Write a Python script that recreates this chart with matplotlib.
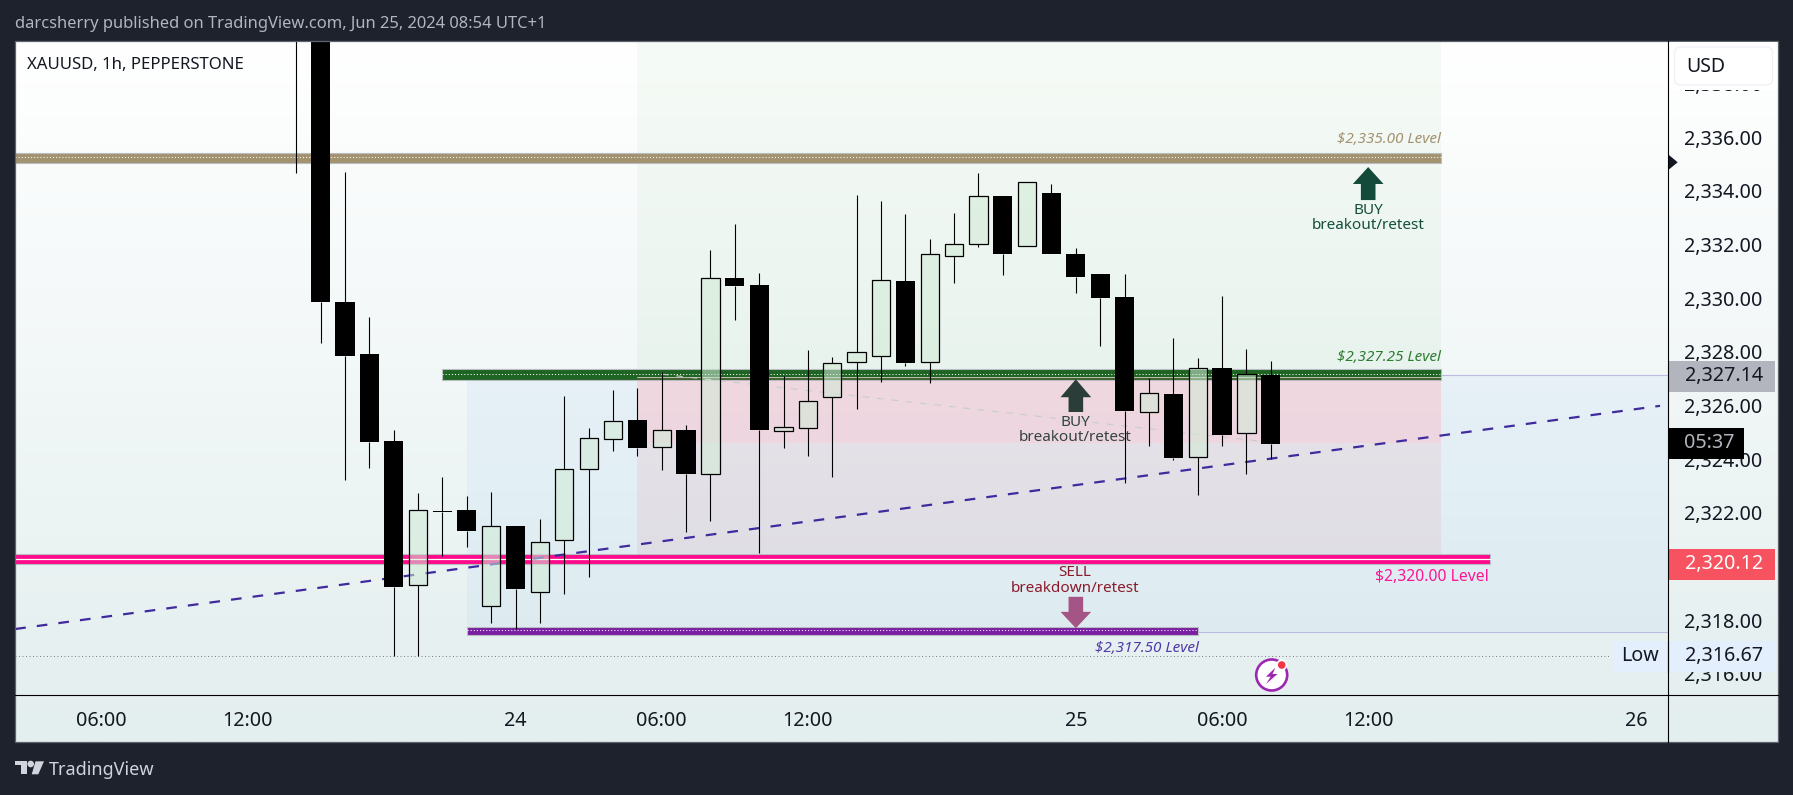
"""XAUUSD 1h TradingView snapshot with level bands, rebuilt in matplotlib."""
import matplotlib
matplotlib.use("Agg")
import matplotlib.pyplot as plt
import numpy as np
from matplotlib.colors import LinearSegmentedColormap
from matplotlib.patches import Circle, FancyBboxPatch, Polygon, Rectangle

W, H = 1793, 795
FONT = "Noto Sans"

# bar index, 0 is the 00:00 candle of the 24th
bars = list(range(-9, 32))
opens = [2342.5, 2341.0, 2329.86, 2327.92, 2324.68, 2319.30, 2322.07, 2322.11, 2318.52, 2321.51,
         2319.06, 2320.98, 2323.63, 2324.74, 2325.46, 2324.45, 2325.09, 2323.44, 2330.76, 2330.50,
         2325.04, 2325.15, 2326.31, 2327.61, 2327.86, 2330.64, 2327.61, 2331.59, 2332.03, 2333.81,
         2331.94, 2333.92, 2331.65, 2330.91, 2330.05, 2325.75, 2326.43, 2324.07, 2327.40, 2324.97,
         2327.14]
highs = [2343.0, 2342.0, 2334.71, 2329.30, 2325.09, 2322.73, 2323.34, 2322.63, 2322.78, 2321.51,
         2321.77, 2326.36, 2325.17, 2326.58, 2326.66, 2327.25, 2325.28, 2331.80, 2332.77, 2330.94,
         2327.10, 2328.07, 2327.81, 2333.85, 2333.63, 2333.14, 2332.21, 2333.18, 2334.67, 2333.81,
         2334.32, 2334.26, 2331.87, 2330.91, 2330.91, 2327.04, 2328.52, 2327.76, 2330.09, 2328.11,
         2327.66]
lows = [2334.67, 2328.35, 2323.24, 2323.69, 2316.68, 2316.68, 2320.41, 2320.74, 2317.91, 2317.67,
        2317.91, 2318.99, 2319.62, 2324.32, 2324.13, 2323.61, 2321.30, 2321.71, 2329.19, 2320.52,
        2324.43, 2324.13, 2323.33, 2325.89, 2326.89, 2327.49, 2326.85, 2330.57, 2331.91, 2330.87,
        2331.94, 2331.66, 2330.20, 2328.23, 2323.13, 2324.51, 2323.97, 2322.68, 2324.51, 2323.43,
        2324.02]
closes = [2341.0, 2329.87, 2327.86, 2324.66, 2319.25, 2322.10, 2322.02, 2321.34, 2321.50, 2319.18,
          2320.91, 2323.63, 2324.78, 2325.42, 2324.43, 2325.08, 2323.43, 2330.74, 2330.46, 2325.10,
          2325.19, 2326.16, 2327.58, 2327.99, 2330.67, 2327.60, 2331.64, 2332.01, 2333.80, 2331.66,
          2334.32, 2331.66, 2330.79, 2330.02, 2325.81, 2326.46, 2324.06, 2327.39, 2324.92, 2327.17,
          2324.58]

price_ticks = [2338, 2336, 2334, 2332, 2330, 2328, 2326, 2324, 2322, 2320, 2318, 2316]
time_ticks = [-17, -11, 0, 6, 12, 23, 29, 35, 46]
time_labels = ["06:00", "12:00", "24", "06:00", "12:00", "25", "06:00", "12:00", "26"]

trend_x = [-20.54, 46.98]
trend_y = [2317.67, 2325.99]
faint_x = [6, 30.8]
faint_y = [2327.17, 2324.65]

fig = plt.figure(figsize=(W / 100, H / 100), dpi=100, facecolor="#1e222d")
plt.rcParams["font.family"] = FONT


def fig_axes(left, top, right, bottom, **kw):
    return fig.add_axes([left / W, 1 - bottom / H, (right - left) / W, (bottom - top) / H], **kw)


# chart background gradient
bg = fig_axes(15.2, 41, 1777.7, 742, zorder=0)
cmap = LinearSegmentedColormap.from_list("tvbg", ["#ffffff", "#e3eeee"])
bg.imshow(np.linspace(0, 1, 256).reshape(-1, 1), aspect="auto", cmap=cmap)
bg.axis("off")

ax = fig_axes(15.2, 41, 1668.3, 695, zorder=1)
ax.patch.set_alpha(0)
ax.set_xlim(-20.54, 47.32)
ax.set_ylim(2315.21, 2339.59)
for s in ax.spines.values():
    s.set_visible(False)

# shaded zones
ax.add_patch(Rectangle((-2, 2317.57), 49.32, 9.57, fc=(0.20, 0.60, 1.0, 0.055), ec="none", zorder=1))
ax.add_patch(Rectangle((5, 2327.25), 33, 12.34, fc=(0.30, 0.69, 0.31, 0.05), ec="none", zorder=1))
ax.add_patch(Rectangle((5, 2320.2), 33, 7.05, fc=(0.90, 0.39, 0.43, 0.10), ec="none", zorder=1))
ax.add_patch(Rectangle((5, 2324.62), 33, 2.63, fc=(1.0, 0.78, 0.82, 0.36), ec="none", zorder=1))

# thin zone borders past the bands
ax.plot([38, 47.32], [2327.15, 2327.15], color="#bcbce2", lw=0.8, zorder=1.5)
ax.plot([28, 47.32], [2317.57, 2317.57], color="#bcbce2", lw=0.8, zorder=1.5)

# low of the visible range
ax.plot([-20.54, 44.9], [2316.67, 2316.67], color="#787b86", lw=0.7, ls=(0, (1, 2.6)), zorder=1.6)

# level bands
band_edge = "#b9bcc0"
ax.add_patch(Rectangle((-20.54, 2335.03), 58.54, 0.38, fc="#a39270", ec=band_edge, lw=0.8, zorder=2))
ax.plot([-20.54, 38], [2335.25, 2335.25], color="white", lw=0.75, ls=(0, (1, 2)), zorder=2.1)
ax.add_patch(Rectangle((-3, 2326.95), 41, 0.4, fc="#1e6423", ec=band_edge, lw=0.8, zorder=2))
ax.add_patch(Rectangle((5, 2326.95), 33, 0.13, fc="#44622f", ec="none", zorder=2.05))
ax.plot([5, 38], [2327.08, 2327.08], color="#c9d2c4", lw=0.6, zorder=2.1)
ax.plot([-3, 38], [2327.17, 2327.17], color="white", lw=0.75, ls=(0, (1, 2)), zorder=2.1)
ax.add_patch(Rectangle((-20.54, 2320.09), 60.54, 0.36, fc="#ff0a8c", ec=band_edge, lw=0.8, zorder=2))
ax.plot([-20.54, 40], [2320.27, 2320.27], color="white", lw=0.9, zorder=2.1)
ax.add_patch(Rectangle((-2, 2317.44), 30, 0.32, fc="#7b1fa2", ec=band_edge, lw=0.8, zorder=2))
ax.plot([-2, 28], [2317.62, 2317.62], color="white", lw=0.75, ls=(0, (1, 2)), zorder=2.1)

# trend lines go under the candles
ax.plot(trend_x, trend_y, color="#3f2a9e", lw=1.6, ls=(0, (4.8, 5)), zorder=2.5)
ax.plot(faint_x, faint_y, color="#c6cdd0", lw=0.8, ls=(0, (6, 7)), zorder=2.5)

# candles
x = np.array(bars)
o, h, l, c = map(np.array, (opens, highs, lows, closes))
top = np.maximum(o, c)
bot = np.minimum(o, c)
up = c >= o
ax.vlines(x, top, h, color="black", lw=0.8, zorder=3)
ax.vlines(x, l, bot, color="black", lw=0.8, zorder=3)
ax.bar(x[~up], (top - bot)[~up], bottom=bot[~up], width=0.79, color="black", lw=0, zorder=4)
ax.bar(x[up], (top - bot)[up], bottom=bot[up], width=0.75, color=(0.82, 0.92, 0.84, 0.55),
       edgecolor="black", lw=0.9, zorder=4)


def arrow(xc, y_tip, y_head, y_end, color):
    hw, sw = 0.63, 0.3
    ax.add_patch(Polygon([(xc, y_tip), (xc + hw, y_head), (xc + sw, y_head), (xc + sw, y_end),
                          (xc - sw, y_end), (xc - sw, y_head), (xc - hw, y_head)],
                         closed=True, fc=color, ec="none", zorder=5))


arrow(35, 2334.89, 2334.26, 2333.66, "#134a3a")
arrow(23, 2326.98, 2326.31, 2325.76, "#2a3d38")
arrow(23, 2317.70, 2318.31, 2318.87, "#a55585")

# level and signal labels
lvl = dict(ha="right", va="center", fontsize=11, zorder=6)
ax.text(37.98, 2335.92, "$2,335.00 Level", color="#a39270", style="italic", **lvl)
ax.text(37.98, 2327.81, "$2,327.25 Level", color="#2e7d32", style="italic", **lvl)
ax.text(28.04, 2316.96, "$2,317.50 Level", color="#5039a8", style="italic", **lvl)
ax.text(39.96, 2319.61, "$2,320.00 Level", color="#ff1493", ha="right", va="center", fontsize=11.3,
        fontweight="medium", zorder=6)

sig = dict(ha="center", va="center", fontsize=11, fontweight="medium", zorder=6)
ax.text(35, 2333.26, "BUY", color="#134e3c", **sig)
ax.text(35, 2332.70, "breakout/retest", color="#134e3c", **sig)
ax.text(22.96, 2325.38, "BUY", color="#33443f", **sig)
ax.text(22.96, 2324.82, "breakout/retest", color="#33443f", **sig)
ax.text(22.96, 2319.76, "SELL", color="#8b1a2b", **sig)
ax.text(22.96, 2319.19, "breakdown/retest", color="#8b1a2b", **sig)

# axis labels
ax.yaxis.tick_right()
ax.set_yticks(price_ticks)
ax.set_yticklabels([f"{p:,.2f}" for p in price_ticks], fontsize=14.2, color="#131722")
ax.tick_params(axis="y", length=0, pad=11)
ax.set_xticks(time_ticks)
ax.set_xticklabels(time_labels, fontsize=14.2, color="#131722")
ax.tick_params(axis="x", length=0, pad=11.7)
for lab, txt in zip(ax.get_xticklabels(), time_labels):
    if txt == "24":
        lab.set_fontweight("bold")

# overlay in picture pixels: axis furniture, price flags, header and footer
px = fig.add_axes([0, 0, 1, 1], zorder=5)
px.set_xlim(0, W)
px.set_ylim(H, 0)
px.axis("off")

px.add_patch(Rectangle((15.2, 41), 1762.5, 701, fc="none", ec="#5f636d", lw=0.9))
px.plot([1668.3, 1668.3], [41, 742], color="black", lw=0.8)
px.plot([15.2, 1777.7], [695.2, 695.2], color="black", lw=0.8)
px.add_patch(Polygon([(1668.3, 154.5), (1677.7, 162.3), (1668.3, 170)], fc="#131722", ec="none"))

# USD button hides the top tick
px.add_patch(Rectangle((1669, 42), 108, 47.5, fc="white", ec="none"))
px.add_patch(FancyBboxPatch((1677, 49.5), 93, 33, boxstyle="round,pad=2.5,rounding_size=6",
                            fc="white", ec="#eef0f6", lw=0.9))
px.text(1706, 66.5, "USD", ha="center", va="center", fontsize=14, color="#131722")


def flag(x0, x1, y0, y1, fc, txt, tc, xt=1724):
    px.add_patch(Rectangle((x0, y0), x1 - x0, y1 - y0, fc=fc, ec="none"))
    px.text(xt, (y0 + y1) / 2 - 0.5, txt, ha="center", va="center", fontsize=14.2, color=tc)


flag(1668.3, 1774.7, 361, 391.7, "#b2b5be", "2,327.14", "#131722")
flag(1668.3, 1744.3, 428, 458.7, "black", "05:37", "#b2b5be", xt=1709)
flag(1668.3, 1774.7, 549, 579.7, "#f7525f", "2,320.12", "white")
flag(1668.3, 1776, 641, 671.7, "#e3effd", "2,316.67", "#131722")
flag(1613, 1667, 641, 671.7, "#e3effd", "Low", "#131722", xt=1640)
px.plot([1667.5, 1667.5], [641, 671.7], color="black", lw=0.8)

# header and symbol line
px.text(15, 24, "darcsherry published on TradingView.com, Jun 25, 2024 08:54 UTC+1",
        ha="left", va="center", fontsize=11.9, color="#b2b5be")
px.text(26.8, 65, "XAUUSD, 1h, PEPPERSTONE", ha="left", va="center", fontsize=12.05, color="#131722")

# lightning badge
px.add_patch(Circle((1271.7, 675), 15.5, fc="white", ec="#9c27b0", lw=1.9))
bolt = [(1275.5, 667.5), (1266, 676.7), (1270.7, 676.7), (1266, 684), (1277.5, 674), (1272.5, 674)]
px.add_patch(Polygon(bolt, closed=True, fc="#9c27b0", ec="none"))
px.add_patch(Circle((1281.7, 665), 5.6, fc="white", ec="none"))
px.add_patch(Circle((1281.7, 665), 3.8, fc="#f23645", ec="none"))

# TradingView logo
logo = "#d1d4dc"
px.add_patch(Polygon([(15, 761.3), (26.7, 761.3), (26.7, 774.3), (20.7, 774.3), (20.7, 765), (15, 765)],
                     closed=True, fc=logo, ec="none"))
px.add_patch(Circle((30.7, 764), 3.3, fc=logo, ec="none"))
px.add_patch(Polygon([(35.5, 761.3), (44, 761.3), (38.3, 774.3), (31.7, 774.3)], closed=True, fc=logo, ec="none"))
px.text(49.3, 770, "TradingView", ha="left", va="center", fontsize=13, color=logo)

fig.savefig("out.png", dpi=100, facecolor=fig.get_facecolor())
